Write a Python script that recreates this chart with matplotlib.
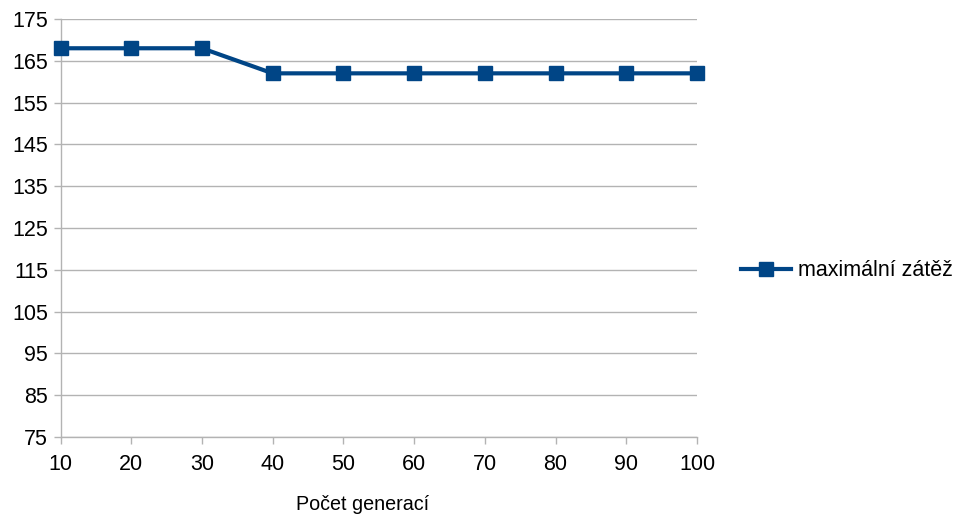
import matplotlib
matplotlib.use("Agg")
import matplotlib.pyplot as plt
from matplotlib.lines import Line2D

plt.rcParams['font.family'] = ['Liberation Sans', 'DejaVu Sans']

categories = [10, 20, 30, 40, 50, 60, 70, 80, 90, 100]
values = [168, 168, 168, 162, 162, 162, 162, 162, 162, 162]
series_name = "maximální zátěž"
x_title = "Počet generací"
y_ticks = list(range(75, 176, 10))

color = "#004586"
grid_color = "#b3b3b3"

fig = plt.figure(figsize=(9.57, 5.19), dpi=100)
ax = fig.add_axes([60.5/957, (519-437)/519, (697-60.5)/957, (437-19)/519])

pos = list(range(len(categories)))
ax.plot(pos, values, color=color, lw=3, marker='s', ms=10, mec=color, mfc=color,
        clip_on=False, zorder=5)

ax.set_xlim(0, len(categories) - 1)
ax.set_ylim(75, 175)
ax.set_xticks(pos)
ax.set_xticklabels([str(c) for c in categories])
ax.set_yticks(y_ticks)
ax.grid(True, axis='y', color=grid_color, lw=1)
ax.set_axisbelow(True)
for s in ['top', 'right']:
    ax.spines[s].set_visible(False)
for s in ['left', 'bottom']:
    ax.spines[s].set_color(grid_color)
    ax.spines[s].set_linewidth(1)
ax.tick_params(axis='both', colors=grid_color, labelcolor='black', labelsize=15.5,
               length=5, width=1)
ax.tick_params(axis='x', pad=7)
ax.tick_params(axis='y', pad=4)

fig.text(363/957, 1 - 505/519, x_title, fontsize=14.2, ha='center', va='center')

handle = Line2D([], [], color=color, lw=3, marker='s', ms=10)
fig.legend([handle], [series_name], loc='center left', bbox_to_anchor=(741/957, 1 - 271/519),
           frameon=False, fontsize=15.5, handlelength=2.3, handletextpad=0.33, borderaxespad=0,
           borderpad=0)

fig.savefig("out.png", dpi=100)
